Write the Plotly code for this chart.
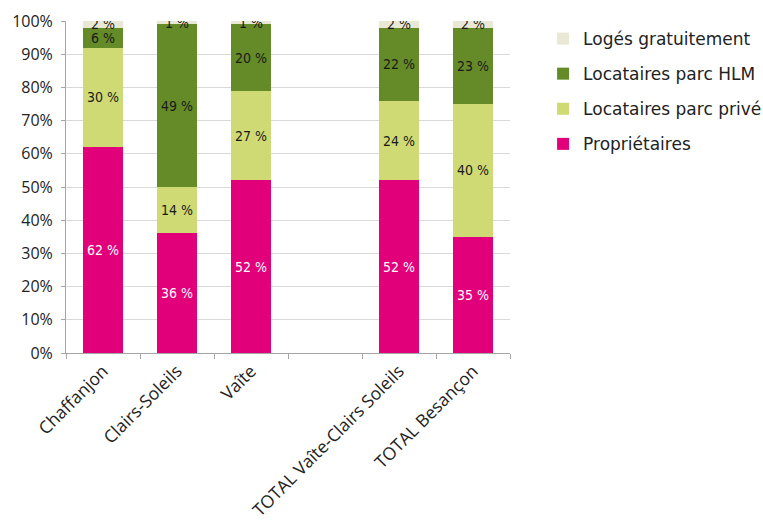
import plotly.graph_objects as go

# Occupancy status of main residences, by neighbourhood (shares in %)
categories = ["Chaffanjon", "Clairs-Soleils", "Vaîte", " ",
              "TOTAL Vaîte-Clairs Soleils", "TOTAL Besançon"]
proprietaires = [62, 36, 52, None, 52, 35]
locataires_prive = [30, 14, 27, None, 24, 40]
locataires_hlm = [6, 49, 20, None, 22, 23]
loges_gratuitement = [2, 1, 1, None, 2, 2]

series = [
    ("Propriétaires", proprietaires, "#E2007A", "#FFFFFF"),
    ("Locataires parc privé", locataires_prive, "#CFDA75", "#1A1A1A"),
    ("Locataires parc HLM", locataires_hlm, "#648B27", "#1A1A1A"),
    ("Logés gratuitement", loges_gratuitement, "#E9E8D5", "#1A1A1A"),
]

LABEL_FONT = "DejaVu Sans Condensed, DejaVu Sans, sans-serif"

fig = go.Figure()
for i, (name, vals, color, tcolor) in enumerate(series):
    fig.add_trace(go.Bar(
        x=categories,
        y=vals,
        name=name,
        legendgroup=f"g{i}",
        legendrank=10 - i,
        marker=dict(color=color, line=dict(width=0)),
        text=[f"{v} %" if v is not None else "" for v in vals],
        textposition="inside",
        insidetextanchor="middle",
        textangle=0,
        constraintext="none",
        insidetextfont=dict(color=tcolor, size=14, family=LABEL_FONT),
        hoverinfo="skip",
    ))

fig.update_layout(
    barmode="stack",
    bargap=0.47,
    width=763,
    height=529,
    margin=dict(l=66, r=253, t=21, b=176, autoexpand=False),
    paper_bgcolor="white",
    plot_bgcolor="white",
    uniformtext=dict(minsize=14, mode="show"),
    font=dict(family="Open Sans, sans-serif", color="#222222"),
    legend=dict(
        x=1.0745, y=1.0, xanchor="left", yanchor="top",
        traceorder="grouped",
        tracegroupgap=10,
        font=dict(size=17, family="DejaVu Sans, sans-serif", color="#222222"),
        itemwidth=30,
        bgcolor="rgba(0,0,0,0)",
    ),
    showlegend=True,
)

fig.update_yaxes(
    range=[0, 100],
    tickvals=[0, 10, 20, 30, 40, 50, 60, 70, 80, 90, 100],
    ticktext=[f"{v}%" for v in range(0, 101, 10)],
    showgrid=True, gridcolor="#D9D9D9", gridwidth=1,
    showline=True, linecolor="#A6A6A6", linewidth=1,
    ticks="outside", ticklen=4, tickcolor="#A6A6A6",
    ticklabelstandoff=5,
    tickfont=dict(size=16, family="Open Sans, sans-serif", color="#222222"),
    zeroline=False,
    automargin=False,
)
fig.update_xaxes(
    type="category",
    showline=True, linecolor="#A6A6A6", linewidth=1,
    ticks="outside", ticklen=5, tickcolor="#A6A6A6",
    tickson="boundaries",
    tickangle=-45,
    tickfont=dict(size=17.5, family="Open Sans, sans-serif", color="#222222"),
    showgrid=False,
    automargin=False,
)

fig.write_html("out.html")
